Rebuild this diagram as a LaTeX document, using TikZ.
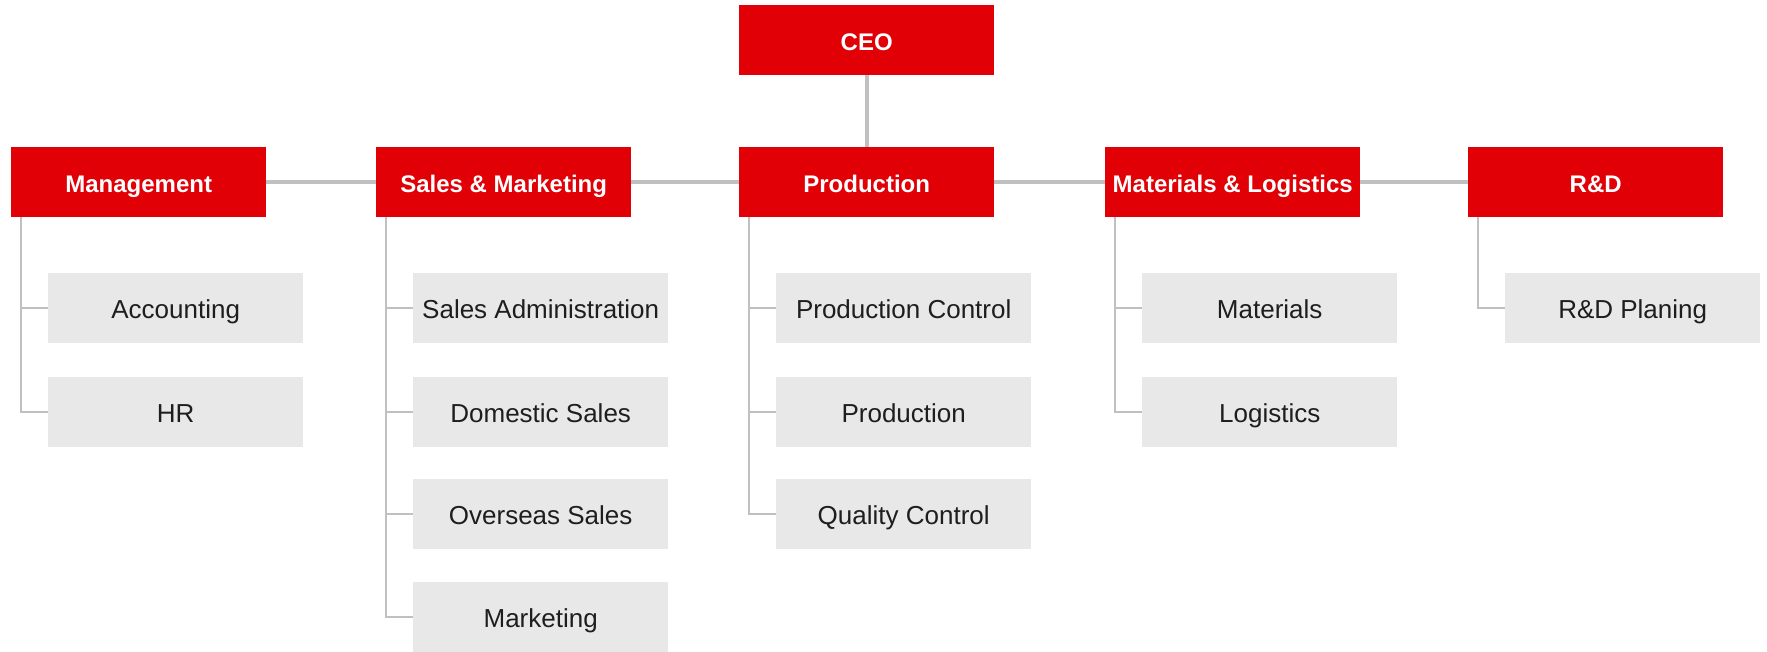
\documentclass[tikz,border=0pt]{standalone}
\usepackage{fontspec}
\setmainfont{Liberation Sans}
\definecolor{hdred}{RGB}{224,0,6}
\definecolor{subgray}{RGB}{232,232,232}
\definecolor{linegray}{RGB}{192,192,192}
\definecolor{subtext}{RGB}{30,30,30}
\tikzset{
  head/.style={anchor=north west, fill=hdred, text=white, minimum width=255pt, minimum height=70pt, inner sep=0pt,
    text height=22pt, text depth=0.5pt, font=\fontsize{24}{28}\selectfont\bfseries},
  sub/.style={anchor=north west, fill=subgray, text=subtext, minimum width=255pt, minimum height=70pt, inner sep=0pt,
    text height=22.5pt, text depth=1.5pt, font=\fontsize{26}{30}\selectfont},
  mainline/.style={draw=linegray, line width=4pt},
  branch/.style={draw=linegray, line width=2pt},
}
\begin{document}
\begin{tikzpicture}[x=1pt,y=-1pt]
\useasboundingbox[fill=white] (0,0) rectangle (1767,651);
% top level
\node[head] (ceo) at (739,5) {CEO};
\node[head] (man) at (11,147) {Management};
\node[head] (sal) at (376,147) {Sales \& Marketing};
\node[head] (pro) at (739,147) {Production};
\node[head] (mat) at (1105,147) {Materials \& Logistics};
\node[head] (rd)  at (1468,147) {R\&D};
% main connectors
\draw[mainline] (ceo.south) -- (pro.north);
\draw[mainline] (man.east) -- (sal.west);
\draw[mainline] (sal.east) -- (pro.west);
\draw[mainline] (pro.east) -- (mat.west);
\draw[mainline] (mat.east) -- (rd.west);
% sub nodes
\node[sub] (acc) at (48,273) {Accounting};
\node[sub] (hr)  at (48,377) {HR};
\node[sub] (sad) at (413,273) {Sales Administration};
\node[sub] (dom) at (413,377) {Domestic Sales};
\node[sub] (ove) at (413,479) {Overseas Sales};
\node[sub] (mkt) at (413,582) {Marketing};
\node[sub] (pco) at (776,273) {Production Control};
\node[sub] (prd) at (776,377) {Production};
\node[sub] (qco) at (776,479) {Quality Control};
\node[sub] (mts) at (1142,273) {Materials};
\node[sub] (log) at (1142,377) {Logistics};
\node[sub] (rdp) at (1505,273) {R\&D Planing};
% branches
\foreach \p/\c in {man/acc, man/hr, sal/sad, sal/dom, sal/ove, sal/mkt, pro/pco, pro/prd, pro/qco, mat/mts, mat/log, rd/rdp}{
  \draw[branch] ([xshift=9.5pt]\p.south west) |- (\c.west);
}
\end{tikzpicture}
\end{document}
